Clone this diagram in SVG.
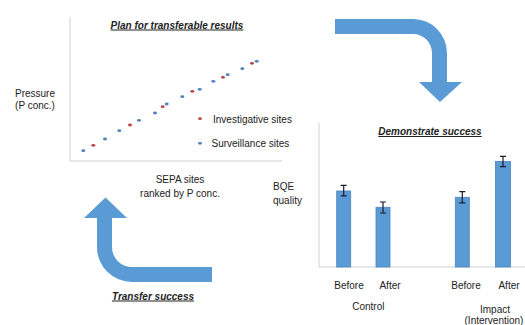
<svg xmlns="http://www.w3.org/2000/svg" width="525" height="325" viewBox="0 0 525 325">
<style>
text{font-family:"Liberation Sans",Arial,sans-serif;font-size:10px;fill:#222}
.t{font-weight:bold;font-style:italic;text-decoration:underline}
.m{text-anchor:middle}
.ax{stroke:#d0d0d0;stroke-width:1;fill:none}
.arrow{fill:#5b9bd5}
.b{fill:#5b9bd5;stroke:#4a84bd;stroke-width:0.8}
.e{stroke:#1c1c2c;stroke-width:1.2;fill:none}
.r{fill:#b8474a}
.s{fill:#4f81bd}
</style>
<rect width="525" height="325" fill="#fff"/>
<g id="scatter">
<path class="ax" d="M70,17 V161 H282"/>
<text class="t m" x="177" y="28.5">Plan for transferable results</text>
<g>
<ellipse class="s" cx="83.3" cy="150.7" rx="2" ry="1.4"/>
<ellipse class="r" cx="93.3" cy="145.3" rx="2" ry="1.4"/>
<ellipse class="s" cx="105" cy="139" rx="2" ry="1.4"/>
<ellipse class="s" cx="119.3" cy="130.7" rx="2" ry="1.4"/>
<ellipse class="r" cx="130" cy="125" rx="2" ry="1.4"/>
<ellipse class="s" cx="139" cy="120.3" rx="2" ry="1.4"/>
<ellipse class="s" cx="155" cy="113" rx="2" ry="1.4"/>
<ellipse class="r" cx="162.7" cy="106.7" rx="2" ry="1.4"/>
<ellipse class="s" cx="166.7" cy="104" rx="2" ry="1.4"/>
<ellipse class="s" cx="182.3" cy="96.7" rx="2" ry="1.4"/>
<ellipse class="r" cx="192.3" cy="91.3" rx="2" ry="1.4"/>
<ellipse class="s" cx="199.7" cy="89.3" rx="2" ry="1.4"/>
<ellipse class="s" cx="213.3" cy="81.3" rx="2" ry="1.4"/>
<ellipse class="r" cx="223" cy="77.3" rx="2" ry="1.4"/>
<ellipse class="s" cx="227.7" cy="74.7" rx="2" ry="1.4"/>
<ellipse class="s" cx="242.3" cy="68.7" rx="2" ry="1.4"/>
<ellipse class="r" cx="252" cy="63.3" rx="2" ry="1.4"/>
<ellipse class="s" cx="256.7" cy="61.3" rx="2" ry="1.4"/>
</g>
<ellipse class="r" cx="200" cy="118.7" rx="2" ry="1.4"/>
<text x="213" y="122.8">Investigative sites</text>
<ellipse class="s" cx="200" cy="143.3" rx="2" ry="1.4"/>
<text x="211.5" y="146.8">Surveillance sites</text>
<text class="m" x="35" y="96.5">Pressure</text>
<text class="m" x="35" y="108.5">(P conc.)</text>
<text class="m" x="180" y="182.8">SEPA sites</text>
<text class="m" x="180" y="196.8">ranked by P conc.</text>
</g>
<g id="barchart">
<path class="ax" d="M319,123 V267 H525"/>
<text class="t m" x="430" y="135">Demonstrate success</text>
<text x="273" y="190">BQE</text>
<text x="273" y="203.5">quality</text>
<rect class="b" x="336.7" y="191" width="14" height="76"/>
<rect class="b" x="376" y="207.3" width="14" height="59.7"/>
<rect class="b" x="455.3" y="197.3" width="14" height="69.7"/>
<rect class="b" x="495.5" y="161.5" width="15" height="105.5"/>
<path class="e" d="M343.7,185.3V195.8M340.7,185.3H346.7M340.7,195.8H346.7"/>
<path class="e" d="M383,202V213M380,202H386M380,213H386"/>
<path class="e" d="M462.3,191.7V202.8M459.3,191.7H465.3M459.3,202.8H465.3"/>
<path class="e" d="M503,156.3V166.7M500,156.3H506M500,166.7H506"/>
<text class="m" x="349" y="288.5">Before</text>
<text class="m" x="390" y="288.5">After</text>
<text class="m" x="466" y="288.5">Before</text>
<text class="m" x="509" y="288.5">After</text>
<text class="m" x="368.3" y="310">Control</text>
<text class="m" x="495" y="312.5">Impact</text>
<text class="m" x="494" y="323.5">(Intervention)</text>
</g>
<g id="connectors">
<path class="arrow" d="M335,19 H413 A34,34 0 0 1 447,53 V82 H462 L440,102 L419,82 H432 V53 A19,19 0 0 0 413,34 H335 Z"/>
<path class="arrow" d="M212,267 H132 A20,20 0 0 1 112,247 V218 H127 L105.5,197.5 L84,218 H97 V247 A35,35 0 0 0 132,282 H212 Z"/>
<text class="t m" x="153" y="299.5">Transfer success</text>
</g>
</svg>
